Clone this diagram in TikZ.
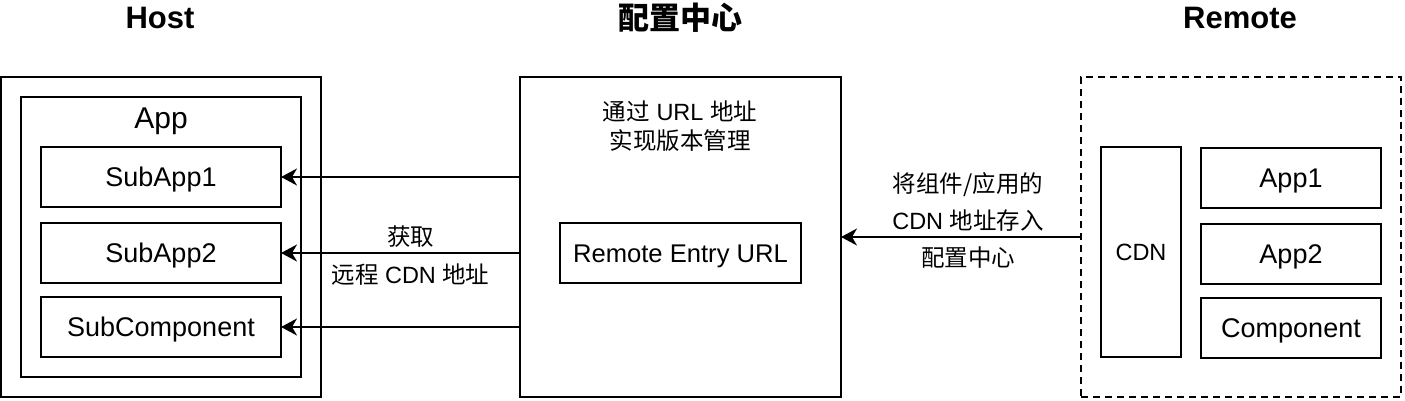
\documentclass[tikz,border=0pt]{standalone}
\usepackage{fontspec}
\setmainfont{Liberation Sans}
\newfontfamily\cjk{Noto Sans CJK SC}
\usetikzlibrary{arrows.meta}

\tikzset{
  box/.style={draw, line width=2pt, inner sep=0pt, outer sep=0pt},
  boxtext/.style={font=\fontsize{27}{32}\selectfont, text height=19.3pt, text depth=0pt},
  title/.style={font=\fontsize{31}{36}\selectfont\bfseries},
  edgetext/.style={font=\fontsize{23.5}{37}\selectfont, align=center},
  fetch/.style={line width=2pt, -{Stealth[length=16pt, width=17pt, inset=5pt]}}
}

\begin{document}
\begin{tikzpicture}[x=1pt, y=-1pt]
    \useasboundingbox (0,0) rectangle (1405,401);

    % Host side
    \node[box, minimum width=320pt, minimum height=320pt] (host) at (161,237) {};
    \node[box, minimum width=280pt, minimum height=280pt] (app) at (161,237) {};
    \node[font=\fontsize{30}{36}\selectfont, text height=21.5pt, text depth=0pt] (applabel) at (161,117.5) {App};
    \node[box, boxtext, minimum width=240pt, minimum height=60pt] (sub1) at (161,177) {SubApp1};
    \node[box, boxtext, minimum width=240pt, minimum height=60pt] (sub2) at (161,253) {SubApp2};
    \node[box, boxtext, minimum width=240pt, minimum height=60pt] (subcomp) at (161,327) {SubComponent};

    % Config center
    \node[box, minimum width=321pt, minimum height=320pt] (cfg) at (680.5,237) {};
    \node[edgetext, font=\fontsize{23.5}{29}\selectfont] (cfgtext) at (680,126) {{\cjk 通过} URL {\cjk 地址}\\{\cjk 实现版本管理}};
    \node[box, font=\fontsize{25.6}{30}\selectfont, text height=18.3pt, text depth=0pt, minimum width=241pt, minimum height=60pt] (entry) at (680.5,253) {Remote Entry URL};

    % Remote side
    \node[box, dash pattern=on 7pt off 5pt, minimum width=320pt, minimum height=320pt] (remote) at (1241,237) {};
    \node[box, font=\fontsize{23.5}{28}\selectfont, text height=16.8pt, text depth=0pt, minimum width=80pt, minimum height=210pt] (cdn) at (1141,252) {CDN};
    \node[box, boxtext, minimum width=180pt, minimum height=60pt] (app1) at (1291,178) {App1};
    \node[box, boxtext, minimum width=180pt, minimum height=60pt] (app2) at (1291,254) {App2};
    \node[box, boxtext, minimum width=180pt, minimum height=60pt] (comp) at (1291,328) {Component};

    % Titles
    \node[title] (hosttitle) at (160,18) {Host};
    \node[title] (cfgtitle) at (680,18) {\cjk 配置中心};
    \node[title] (remotetitle) at (1240,18) {Remote};

    % Draw arrows
    \draw[fetch] (sub1.east -| cfg.west) -- (sub1.east);
    \draw[fetch] (sub2.east -| cfg.west) -- (sub2.east)
        node[edgetext, midway, xshift=10pt, yshift=16pt] {\cjk 获取}
        node[edgetext, midway, xshift=10pt, yshift=-22pt] {{\cjk 远程} CDN {\cjk 地址}};
    \draw[fetch] (subcomp.east -| cfg.west) -- (subcomp.east);
    \draw[fetch] (remote.west) -- (cfg.east)
        node[edgetext, midway, xshift=7pt, yshift=17pt] {{\cjk 将组件/应用的}\\CDN {\cjk 地址存入}\\{\cjk 配置中心}};

\end{tikzpicture}
\end{document}
